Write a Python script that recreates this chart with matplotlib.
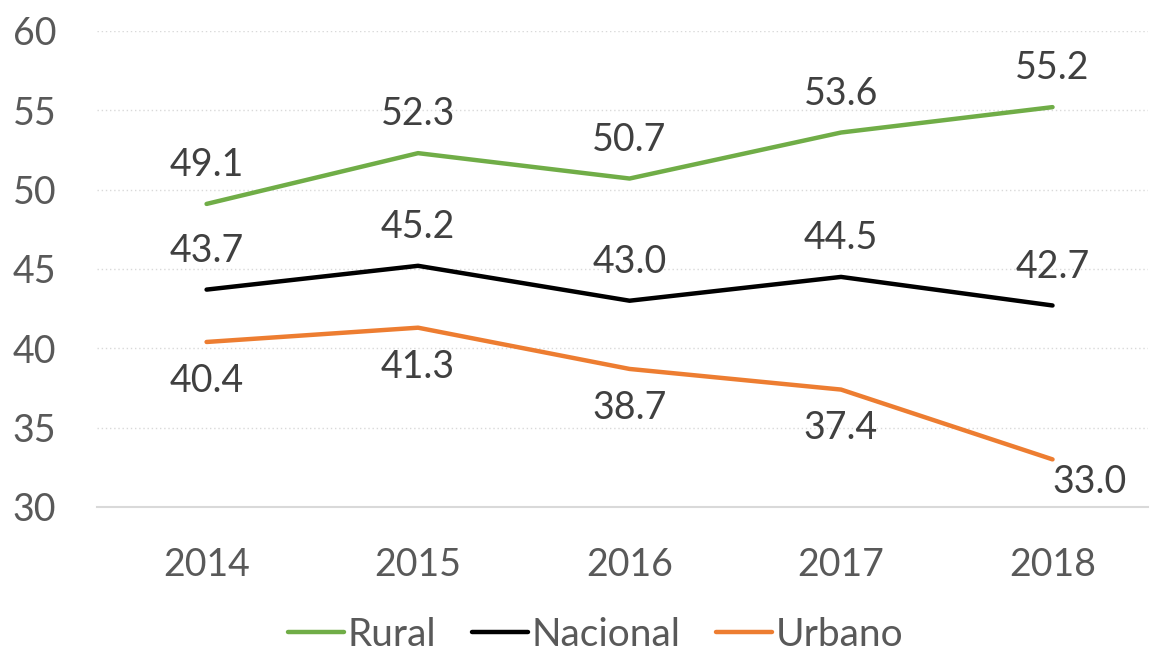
import matplotlib.pyplot as plt

years = ['2014', '2015', '2016', '2017', '2018']
rural = [49.1, 52.3, 50.7, 53.6, 55.2]
nacional = [43.7, 45.2, 43.0, 44.5, 42.7]
urbano = [40.4, 41.3, 38.7, 37.4, 33.0]

plt.rcParams['font.family'] = ['Lato', 'DejaVu Sans']

fig = plt.figure(figsize=(11.5, 6.52), dpi=100)
ax = fig.add_axes([0.084, 0.2224, 0.914, 0.7301])

x = range(len(years))
l1, = ax.plot(x, rural, color='#70AD47', lw=3.2, solid_capstyle='round')
l2, = ax.plot(x, nacional, color='black', lw=3.2, solid_capstyle='round')
l3, = ax.plot(x, urbano, color='#ED7D31', lw=3.2, solid_capstyle='round')

for i in x:
    ax.annotate('%.1f' % rural[i], (i, rural[i]), xytext=(0, 28), textcoords='offset points',
                ha='center', va='center', fontsize=27, color='#404040')
    ax.annotate('%.1f' % nacional[i], (i, nacional[i]), xytext=(0, 28), textcoords='offset points',
                ha='center', va='center', fontsize=27, color='#404040')
    if i == len(years) - 1:
        off = (27, -16)
    else:
        off = (0, -28)
    ax.annotate('%.1f' % urbano[i], (i, urbano[i]), xytext=off, textcoords='offset points',
                ha='center', va='center', fontsize=27, color='#404040')

ax.set_xlim(-0.52, 4.45)
ax.set_ylim(30, 60)
ax.set_yticks(range(30, 61, 5))
ax.set_xticks(list(x))
ax.set_xticklabels(years)
ax.tick_params(axis='both', length=0, labelsize=27, labelcolor='#595959')
ax.tick_params(axis='x', pad=29)
ax.tick_params(axis='y', pad=29)

ax.grid(axis='y', color='#D9D9D9', linestyle=(0, (1, 2)), lw=1)
ax.set_axisbelow(True)
for s in ['top', 'right', 'left']:
    ax.spines[s].set_visible(False)
ax.spines['bottom'].set_color('#D9D9D9')
ax.spines['bottom'].set_linewidth(1.5)

fig.legend([l1, l2, l3], ['Rural', 'Nacional', 'Urbano'], loc='center', bbox_to_anchor=(0.518, 0.026),
           ncol=3, frameon=False, fontsize=28, labelcolor='#595959', handlelength=1.45,
           handletextpad=0.1, columnspacing=0.9)

fig.savefig('out.png', dpi=100)
